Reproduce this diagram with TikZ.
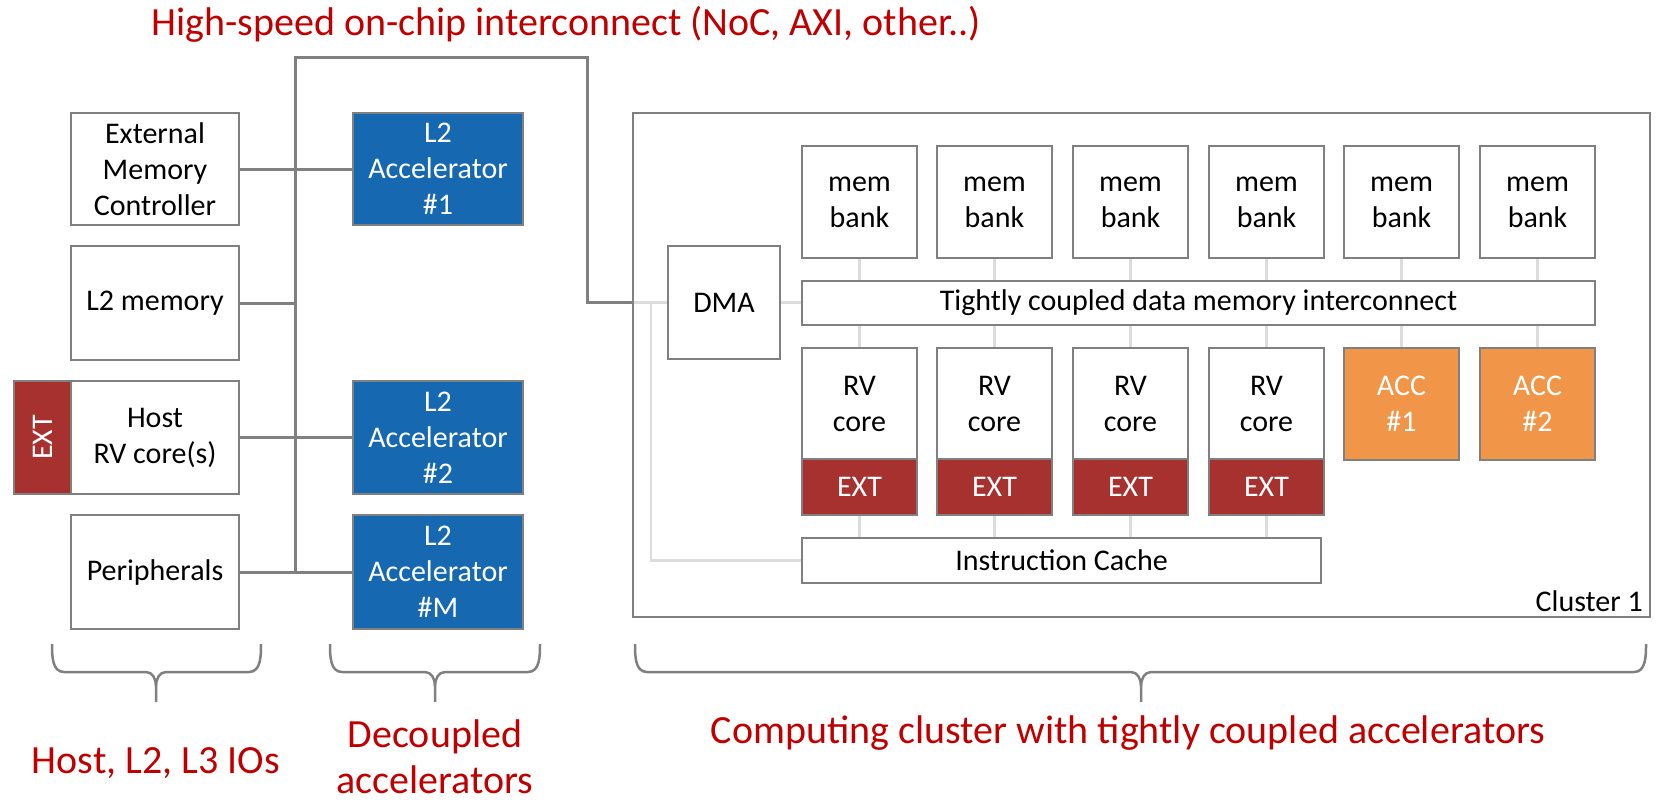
\documentclass[tikz,border=0pt]{standalone}
\usepackage{fontspec}
\setmainfont{Carlito}
\usetikzlibrary{backgrounds}
\definecolor{bord}{RGB}{128,128,128}
\definecolor{litegray}{RGB}{220,220,220}
\definecolor{accblue}{RGB}{22,104,176}
\definecolor{extred}{RGB}{167,49,46}
\definecolor{accorange}{RGB}{241,150,72}
\definecolor{lblred}{RGB}{192,0,0}
\newcommand\bxfont{\fontsize{30}{36}\selectfont}
\newcommand\lblfont{\fontsize{40}{48}\selectfont}
\begin{document}
\begin{tikzpicture}[x=1pt,y=-1pt,
  box/.style={draw=bord, line width=2.5pt, fill=white, inner sep=0pt, align=center, font=\bxfont, text=black, rectangle},
  bluebox/.style={box, fill=accblue, text=white},
  extbox/.style={box, fill=extred, text=white},
  accbox/.style={box, fill=accorange, text=white},
  frame/.style={draw=bord, line width=2.5pt, inner sep=0pt, rectangle},
  sz/.style 2 args={minimum width=#1, minimum height=#2},
  bus/.style={draw=bord, line width=3pt},
  linkline/.style={draw=litegray, line width=2.5pt},
  redlbl/.style={text=lblred, font=\lblfont, align=center, inner sep=0pt},
  brace/.style={draw=bord, line width=2.5pt}
]
\useasboundingbox (0,0) rectangle (1656,801);

% title
\node[redlbl, anchor=base] (title) at (566,35) {High-speed on-chip interconnect (NoC, AXI, other..)};

% left column
\node[box, sz={168}{112}] (emc) at (155,169) {External\\Memory\\Controller};
\node[box, sz={168}{114}] (l2m) at (155,303) {L2 memory};
\node[box, sz={168}{113}] (host) at (155,437.5) {Host\\RV core(s)};
\node[extbox, sz={57}{113}] (hostext) at (42.5,437.5) {};
\node[rotate=90, text=white, font=\bxfont, inner sep=0pt] (hostexttxt) at (hostext.center) {EXT};
\node[box, sz={168}{114}] (per) at (155,572) {Peripherals};

% decoupled accelerators
\node[bluebox, sz={170}{112}] (acc1) at (438,169) {L2\\Accelerator\\\#1};
\node[bluebox, sz={170}{113}] (acc2) at (438,437.5) {L2\\Accelerator\\\#2};
\node[bluebox, sz={170}{114}] (accm) at (438,572) {L2\\Accelerator\\\#M};

% cluster
\node[frame, sz={1017}{504}] (cluster) at (1141.5,365) {};
\node[font=\bxfont, anchor=base east, inner sep=0pt] (clusterlbl) at (1643,611) {Cluster 1};
\node[box, sz={112}{113}] (dma) at (724,302.5) {DMA};
\foreach \i/\x in {1/802,2/937,3/1073,4/1209,5/1344,6/1480} {
  \node[box, sz={115}{112}] (b\i) at (\x+57.5,202) {mem\\bank};
}
\node[box, sz={793}{44}] (tci) at (1198.5,303) {Tightly coupled data memory interconnect};
\foreach \i/\x in {1/802,2/937,3/1073,4/1209} {
  \node[box, sz={115}{111}] (c\i) at (\x+57.5,403.5) {RV\\core};
  \node[extbox, sz={115}{56}] (e\i) at (\x+57.5,487) {EXT};
}
\node[accbox, sz={115}{112}] (a1) at (1401.5,404) {ACC\\\#1};
\node[accbox, sz={115}{112}] (a2) at (1537.5,404) {ACC\\\#2};
\node[box, sz={519}{45}] (ic) at (1061.5,560.5) {Instruction Cache};

\coordinate (bustop) at (295,57);
\coordinate (buscorner) at (587,57);
\coordinate (tap) at (651,302.5);

\begin{pgfonlayer}{background}
  % bus
  \draw[bus] (bustop |- per.east) -- (bustop) -- (buscorner) -- (buscorner |- dma.west) -- (dma.west -| cluster.west);
  \draw[bus] (emc.east) -- (acc1.west);
  \draw[bus] (l2m.east) -- (l2m.east -| bustop);
  \draw[bus] (host.east) -- (acc2.west);
  \draw[bus] (per.east) -- (accm.west);
  % cluster links
  \draw[linkline] (dma.west -| cluster.west) -- (dma.west);
  \draw[linkline] (tap) -- (tap |- ic.west) -- (ic.west);
  \draw[linkline] (dma.east) -- (dma.east -| tci.west);
  \foreach \i in {1,...,6} {
    \draw[linkline] (b\i.south) -- (b\i.south |- tci.north);
  }
  \foreach \i in {1,...,4} {
    \draw[linkline] (c\i.north |- tci.south) -- (c\i.north);
    \draw[linkline] (e\i.south) -- (e\i.south |- ic.north);
  }
  \draw[linkline] (a1.north |- tci.south) -- (a1.north);
  \draw[linkline] (a2.north |- tci.south) -- (a2.north);
\end{pgfonlayer}

% braces
\draw[brace] (52,644) to[out=-90,in=180] (64,672) -- (146,672) to[out=0,in=90] (156,686) -- (156,702);
\draw[brace] (261,644) to[out=-90,in=0] (249,672) -- (166,672) to[out=180,in=90] (156,686);
\draw[brace] (330,644) to[out=-90,in=180] (342,672) -- (425,672) to[out=0,in=90] (435,686) -- (435,702);
\draw[brace] (540,644) to[out=-90,in=0] (528,672) -- (445,672) to[out=180,in=90] (435,686);
\draw[brace] (635,644) to[out=-90,in=180] (647,672) -- (1131,672) to[out=0,in=90] (1141,686) -- (1141,702);
\draw[brace] (1646,644) to[out=-90,in=0] (1634,672) -- (1151,672) to[out=180,in=90] (1141,686);

% bottom labels
\node[redlbl, anchor=base] (lblhost) at (156,773) {Host, L2, L3 IOs};
\node[redlbl, anchor=base] (lbldec1) at (435,747) {Decoupled};
\node[redlbl, anchor=base] (lbldec2) at (435,793) {accelerators};
\node[redlbl, anchor=base] (lblclus) at (1128,743) {Computing cluster with tightly coupled accelerators};
\end{tikzpicture}
\end{document}
